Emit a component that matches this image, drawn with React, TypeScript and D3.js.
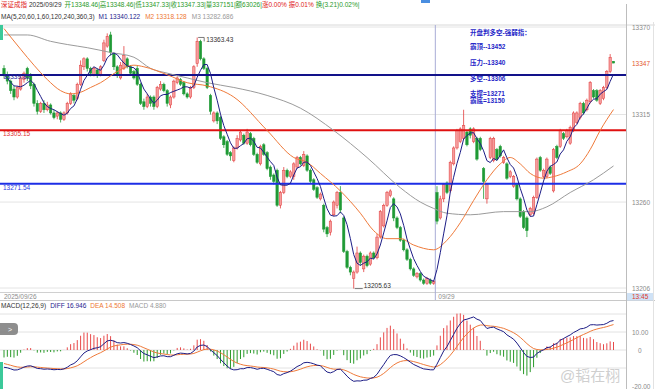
import React from "react";
import * as d3 from "d3";

// ---------- data ----------
const opens = [
  13344,13340,13336,13331,13326,13331,13337,13344,13339,13334,
  13322,13317,13322,13318,13321,13316,13314,13316,13312,13316,
  13322,13327,13325,13334,13345,13350,13344,13340,13343,13340,
  13349,13358,13365,13353,13345,13338,13344,13350,13345,13342,
  13344,13334,13323,13320,13326,13326,13320,13331,13334,13330,
  13321,13326,13335,13337,13335,13328,13326,13332,13347,13361,
  13350,13344,13327,13311,13316,13313,13301,13298,13291,13286,
  13294,13299,13302,13297,13303,13300,13290,13284,13296,13291,
  13282,13277,13280,13258,13266,13280,13276,13276,13282,13288,
  13283,13289,13280,13274,13269,13262,13258,13244,13241,13252,
  13258,13266,13250,13229,13219,13212,13216,13228,13218,13226,
  13221,13228,13225,13238,13245,13258,13264,13262,13250,13244,
  13236,13230,13224,13218,13213,13215,13211,13209,13211,13209,
  13266,13250,13262,13272,13267,13284,13294,13298,13300,13304,
  13306,13298,13300,13300,13281,13262,13288,13286,13293,13295,
  13285,13284,13276,13270,13271,13262,13254,13250,13252,13253,
  13263,13288,13276,13276,13282,13267,13295,13295,13303,13301,
  13297,13305,13310,13313,13322,13318,13323,13330,13330,13322,
  13325,13332,13342,13348.46,
];
const closes = [
  13340,13336,13330,13326,13332,13338,13341,13338,13333,13322,
  13317,13322,13318,13321,13316,13313,13316,13312,13316,13322,
  13328,13324,13334,13346,13350,13344,13341,13344,13340,13345,
  13360,13364,13354,13345,13340,13346,13352,13345,13341,13338,
  13334,13322,13320,13326,13322,13320,13332,13334,13330,13322,
  13326,13336,13338,13334,13328,13326,13332,13345,13361,13350,
  13344,13332,13317,13316,13311,13300,13296,13290,13289,13294,
  13300,13304,13297,13304,13296,13290,13285,13295,13290,13281,
  13276,13273,13258,13266,13280,13276,13279,13284,13288,13284,
  13290,13280,13273,13268,13263,13265,13243,13240,13248,13260,
  13266,13255,13229,13219,13216,13216,13228,13222,13226,13220,
  13228,13225,13238,13254,13258,13266,13267,13250,13244,13236,
  13230,13224,13218,13214,13215,13211,13209,13212,13209,13210,
  13248,13262,13271,13266,13285,13294,13305,13306,13308,13296,
  13302,13306,13287,13293,13273,13271,13300,13300,13287,13289,
  13288,13275,13279,13276,13262,13251,13244,13242,13256,13263,
  13287,13280,13280,13287,13278,13293,13288,13305,13300,13305,
  13307,13316,13316,13322,13316,13324,13335,13326,13324,13330,
  13332,13342,13351,13347.33,
];
const highs = [
  13346,13342,13337,13333,13333,13339,13342,13345,13341,13335,
  13324,13323,13324,13323,13322,13318,13317,13317,13317,13323,
  13329,13328,13335,13349,13351,13351,13345,13345,13344,13346,
  13362,13366,13367,13354,13346,13348,13358,13351,13346,13343,
  13346,13335,13325,13328,13327,13327,13333,13336,13335,13331,
  13327,13337,13339,13338,13336,13329,13333,13346,13363.43,13362,
  13351,13345,13328,13317,13317,13314,13302,13299,13292,13295,
  13302,13305,13303,13306,13304,13301,13291,13296,13297,13292,
  13283,13278,13281,13267,13282,13281,13280,13285,13289,13289,
  13292,13290,13281,13275,13270,13266,13259,13245,13249,13261,
  13267,13270,13251,13230,13220,13217,13232,13229,13227,13227,
  13229,13229,13240,13255,13259,13267,13268,13263,13251,13245,
  13237,13231,13225,13219,13216,13216,13212,13213,13212,13211,
  13270,13264,13272,13273,13286,13295,13306,13307,13318,13305,
  13307,13307,13301,13301,13282,13272,13301,13301,13294,13296,
  13289,13285,13280,13277,13272,13263,13255,13251,13257,13264,
  13288,13289,13281,13288,13283,13294,13296,13306,13304,13306,
  13308,13317,13317,13323,13323,13325,13336,13331,13331,13331,
  13333,13343,13353,13348.46,
];
const lows = [
  13338,13334,13328,13324,13325,13330,13335,13336,13331,13320,
  13315,13316,13316,13317,13315,13312,13312,13310,13311,13315,
  13321,13322,13324,13333,13343,13342,13339,13339,13338,13339,
  13348,13357,13352,13343,13338,13337,13343,13344,13340,13337,
  13333,13321,13318,13319,13320,13318,13319,13330,13329,13320,
  13319,13325,13334,13333,13327,13325,13325,13331,13345,13349,
  13343,13331,13315,13310,13309,13299,13294,13289,13286,13285,
  13293,13298,13296,13296,13295,13289,13284,13283,13289,13280,
  13274,13271,13257,13256,13265,13275,13275,13274,13281,13283,
  13282,13279,13272,13267,13262,13261,13241,13238,13239,13251,
  13256,13253,13228,13218,13214,13205.63,13215,13220,13216,13219,
  13220,13224,13224,13237,13244,13257,13263,13248,13243,13235,
  13229,13223,13217,13213,13212,13210,13208,13208,13208,13208,
  13246,13249,13260,13265,13266,13283,13293,13297,13299,13295,
  13300,13297,13286,13292,13262,13259,13287,13285,13286,13288,
  13284,13274,13275,13269,13261,13250,13243,13238,13251,13252,
  13262,13279,13275,13275,13277,13266,13287,13294,13299,13300,
  13296,13304,13309,13312,13315,13317,13322,13325,13323,13321,
  13324,13331,13341,13347.33,
];

// MA20 (orange) and MA60 (grey) read at sample candles
const ma20Idx = [0,5,9,13,17,20,23,26,29,34,39,42,49,55,61,69,79,87,91,95,101,107,111,115,119,123,129,133,137,141,145,149,152,155,158,162,165,169,173,176,179,183];
const ma20Val = [13369,13356,13346,13337,13330,13328,13329,13332,13335,13342,13346,13345,13340,13335,13333,13326,13305,13288,13285,13278,13267,13253,13242,13237,13237,13233,13230,13236,13247,13261,13274,13284,13288,13284,13278,13275,13276,13279,13284,13293,13305,13318.13];
const ma60Idx = [0,7,14,19,25,32,39,44,49,55,61,69,79,89,99,109,119,125,129,133,140,150,158,163,170,177,183];
const ma60Val = [13365,13365,13361,13359,13357,13354,13351,13344,13341,13338,13335,13332,13327,13319,13305,13288,13269,13260,13256,13253,13252,13254,13254,13257,13266,13274,13282.69];

// MACD EMA starting state read from the left edge of the MACD panel
const EMA12_START = 13350;
const EMA26_START = 13359.5;
const DEA_START = -7;

const priceTicks = [13370, 13315, 13260, 13206];
const macdGrid = [20, 10, 0, -10];
const macdLabels = [10, 0, -20];
const levels = [13339.82, 13305.15, 13271.54];
const levelLabels = ["13339.82", "13305.15", "13271.54"];
const notes = ["开盘判多空-强弱指：", "霸顶--13452", "压力--13340", "多空--13306", "支撑=13271", "霸底=13150"];
const dayStart = 130;
const dayLabels = ["2025/09/26", "09/29"];
const lastPrice = 13347;
const highMark = 13363.43;
const lowMark = 13205.63;

const FONT = "'Liberation Sans', Arial, 'Noto Sans CJK SC', sans-serif";

export default function App() {
  const N = closes.length;
  const x = d3.scaleLinear().domain([0, N - 1]).range([4, 613.5]);
  const y = d3.scaleLinear().domain([13206, 13370]).range([288, 27]);
  const ym = d3.scaleLinear().domain([-20, 10]).range([386, 332]);

  const ma5 = closes.map((_, i) => d3.mean(closes.slice(Math.max(0, i - 4), i + 1)) as number);

  let e12 = EMA12_START, e26 = EMA26_START, dea = DEA_START;
  const diffArr: number[] = [], deaArr: number[] = [], hist: number[] = [];
  closes.forEach((c) => {
    e12 = (2 * c + 11 * e12) / 13;
    e26 = (2 * c + 25 * e26) / 27;
    const d = e12 - e26;
    dea = (2 * d + 8 * dea) / 10;
    diffArr.push(d);
    deaArr.push(dea);
    hist.push(2 * (d - dea));
  });

  const lineIdx = d3.line<number>().x((_, i) => x(i)).y((v) => y(v));
  const ptsLine = d3.line<[number, number]>().x((d) => x(d[0])).y((d) => y(d[1])).curve(d3.curveMonotoneX);
  const macdLine = d3.line<number>().x((_, i) => x(i)).y((v) => ym(v));

  const bw = 2.4;
  const levelColors = ["#12128a", "#e01010", "#1c2ee6"];
  const levelTextColors = ["#2a2a9a", "#e03030", "#2a3ae0"];
  const dayX = (x(dayStart - 1) + x(dayStart)) / 2;
  const hiIdx = highs.indexOf(highMark);
  const loIdx = lows.indexOf(lowMark);

  return (
    <svg width={655} height={389} style={{ position: "absolute", left: 0, top: 0, background: "#fff", fontFamily: FONT }}>
      <defs>
        <clipPath id="mainClip"><rect x={0} y={25} width={626} height={265} /></clipPath>
        <clipPath id="macdClip"><rect x={0} y={310} width={626} height={79} /></clipPath>
      </defs>
      <rect x={0} y={0} width={655} height={389} fill="#fff" />

      {/* header */}
      <text x={1} y={7} fontSize={6.5}>
        <tspan fill="#e02020">深证成指</tspan>
        <tspan fill="#333" dx={2}>2025/09/29</tspan>
        <tspan fill="#2a9a2a" dx={3}>开13348.46|高13348.46|低13347.33|收13347.33|量337151|额63026|</tspan>
        <tspan fill="#e02020">涨0.00%</tspan>
        <tspan fill="#e02020" dx={2}>振0.01%</tspan>
        <tspan fill="#2a9a2a" dx={2}>换(3.21)0.02%|</tspan>
      </text>
      <text x={1} y={18.5} fontSize={6.5}>
        <tspan fill="#333">MA(5,20,60,1,60,120,240,360,3)</tspan>
        <tspan fill="#23238e" dx={4}>M1 13340.122</tspan>
        <tspan fill="#ee7733" dx={5}>M2 13318.128</tspan>
        <tspan fill="#999" dx={5}>M3 13282.686</tspan>
      </text>
      <rect x={421} y={0} width={9} height={3} fill="#4a8ee0" />

      {/* frame */}
      <line x1={0} x2={655} y1={25} y2={25} stroke="#d8d8d8" />
      <line x1={0} x2={626} y1={292.5} y2={292.5} stroke="#d0d0d0" />
      <line x1={0} x2={655} y1={300.5} y2={300.5} stroke="#c8c8c8" />
      <line x1={626.5} x2={626.5} y1={4} y2={389} stroke="#bdbdbd" />
      <line x1={653.5} x2={653.5} y1={22} y2={389} stroke="#e2e2e2" />

      {/* price grid */}
      {priceTicks.map((p) => (
        <g key={p}>
          <line x1={0} x2={626} y1={y(p)} y2={y(p)} stroke="#e4e4e4" />
          <text x={632} y={y(p) + 2.5} fontSize={6.5} fill="#8a8a8a">{p}</text>
        </g>
      ))}
      <text x={632} y={y(lastPrice) + 2.5} fontSize={6.5} fill="#e4572e">{lastPrice}</text>

      {/* day separator */}
      <line x1={dayX} x2={dayX} y1={25} y2={300} stroke="#a9acd6" />

      <g clipPath="url(#mainClip)">
        {/* candles */}
        {closes.map((c, i) => {
          const o = opens[i];
          const up = c >= o;
          const col = up ? "#e23c3c" : "#1f9a35";
          const top = y(Math.max(o, c));
          const h = Math.max(0.8, Math.abs(y(o) - y(c)));
          return (
            <g key={i}>
              <line x1={x(i)} x2={x(i)} y1={y(highs[i])} y2={y(lows[i])} stroke={col} strokeWidth={0.8} />
              <rect x={x(i) - bw / 2} y={top} width={bw} height={h} fill={up ? "#f59c9c" : "#1f9a35"} stroke={col} strokeWidth={0.5} />
            </g>
          );
        })}

        {/* level lines */}
        {levels.map((lv, k) => (
          <line key={lv} x1={0} x2={626} y1={y(lv)} y2={y(lv)} stroke={levelColors[k]} strokeWidth={2} />
        ))}

        {/* moving averages */}
        <path d={ptsLine(ma60Idx.map((d, k) => [d, ma60Val[k]] as [number, number])) || ""} fill="none" stroke="#9b9b9b" strokeWidth={1} />
        <path d={ptsLine(ma20Idx.map((d, k) => [d, ma20Val[k]] as [number, number])) || ""} fill="none" stroke="#ef7a3a" strokeWidth={1} />
        <path d={lineIdx(ma5) || ""} fill="none" stroke="#1d1d86" strokeWidth={1} />
      </g>

      {/* level labels */}
      {levels.map((lv, k) => (
        <text key={lv} x={3} y={y(lv) + (k === 0 ? 3.5 : 6)} fontSize={6.5} fill={levelTextColors[k]}>{levelLabels[k]}</text>
      ))}

      {/* high / low marks */}
      <path d={`M${x(hiIdx) + 1},${y(highMark)}H${x(hiIdx) + 7}V${y(highMark) + 4}`} fill="none" stroke="#444" strokeWidth={0.7} />
      <text x={x(hiIdx) + 9} y={y(highMark) + 5} fontSize={6.5} fill="#333">{highMark.toFixed(2)}</text>
      <path d={`M${x(loIdx) + 1},${y(lowMark)}H${x(loIdx) + 9}`} fill="none" stroke="#444" strokeWidth={0.7} />
      <text x={x(loIdx) + 10} y={y(lowMark) - 0.5} fontSize={6.5} fill="#333">{lowMark.toFixed(2)}</text>

      {/* notes */}
      {notes.map((t, k) => (
        <text key={t} x={470} y={[35, 49, 65, 81, 96, 102.5][k]} fontSize={6.5} fontWeight="bold" fill="#2626c8">{t}</text>
      ))}

      {/* date row */}
      <text x={4} y={298.5} fontSize={6.5} fill="#8c8c8c">{dayLabels[0]}</text>
      <text x={dayX + 3} y={298.5} fontSize={6.5} fill="#8c8c8c">{dayLabels[1]}</text>
      <rect x={627} y={293} width={26} height={7.5} fill="#cfe2f6" />
      <text x={632} y={299} fontSize={6.5} fill="#e03a2a">13:45</text>

      {/* MACD panel */}
      <text x={1} y={308} fontSize={6.5}>
        <tspan fill="#333">MACD(12,26,9)</tspan>
        <tspan fill="#23238e" dx={4}>DIFF 16.946</tspan>
        <tspan fill="#ee7733" dx={4}>DEA 14.508</tspan>
        <tspan fill="#999" dx={4}>MACD 4.880</tspan>
      </text>
      {macdGrid.map((g) => (
        <line key={g} x1={0} x2={626} y1={ym(g)} y2={ym(g)} stroke="#e2e2e2" />
      ))}
      {macdLabels.map((g) => (
        <text key={g} x={g === 0 ? 638 : 632} y={ym(g) + 2.5} fontSize={6.5} fill="#8a8a8a">{g === 0 ? "0" : g.toFixed(2)}</text>
      ))}
      <g clipPath="url(#macdClip)">
        {hist.map((h, i) => (
          <line key={i} x1={x(i)} x2={x(i)} y1={ym(0)} y2={ym(h)} stroke={h >= 0 ? "#e84a4a" : "#2a9a2a"} strokeWidth={1} />
        ))}
        <path d={macdLine(deaArr) || ""} fill="none" stroke="#ef7a3a" strokeWidth={1} />
        <path d={macdLine(diffArr) || ""} fill="none" stroke="#1d1d86" strokeWidth={1} />
      </g>

      {/* side decorations */}
      <rect x={0} y={25} width={3} height={15} fill="#3cc99a" />
      <rect x={0} y={362} width={3} height={27} fill="#3cc99a" />
      <rect x={-6} y={323} width={24} height={12} rx={4} fill="#7a7a7a" opacity={0.85} />
      <text x={8} y={331.5} fontSize={7} fill="#fff">&gt;</text>

      {/* watermark */}
      <text x={560} y={381} fontSize={15} fill="#bfbfbf" opacity={0.75}>@韬在栩</text>
    </svg>
  );
}
